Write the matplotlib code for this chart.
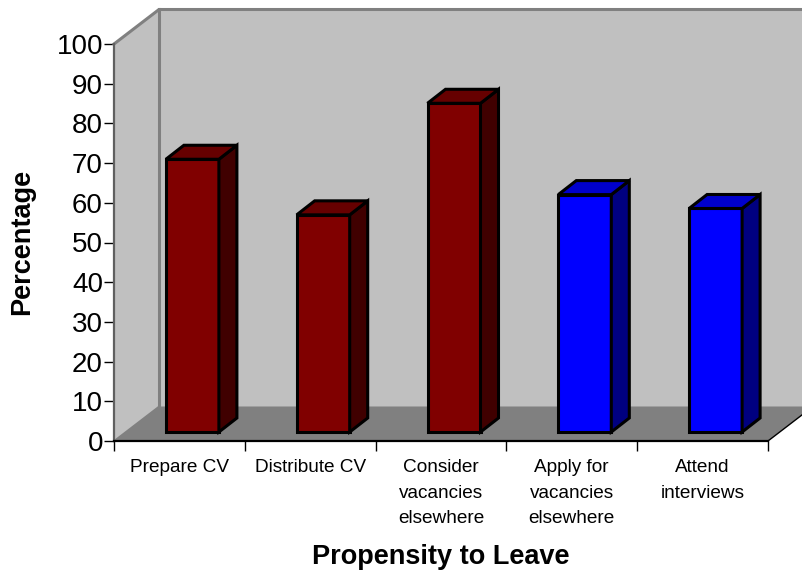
import matplotlib
matplotlib.use("Agg")
import matplotlib.pyplot as plt
from matplotlib.patches import Polygon

categories = ["Prepare CV", "Distribute CV", "Consider\nvacancies\nelsewhere",
              "Apply for\nvacancies\nelsewhere", "Attend\ninterviews"]
values = [68.7, 54.7, 82.8, 59.8, 56.3]
front_colors = ["#800000", "#800000", "#800000", "#0000FF", "#0000FF"]
top_colors = ["#660000", "#660000", "#660000", "#0000CC", "#0000CC"]
side_colors = ["#400000", "#400000", "#400000", "#000080", "#000080"]
y_ticks = list(range(0, 101, 10))

plt.rcParams['font.family'] = ['Liberation Sans', 'DejaVu Sans']
W, H = 802, 572
fig = plt.figure(figsize=(W / 100, H / 100), dpi=100, facecolor="white")
ax = fig.add_axes([114 / W, (H - 441) / H, 654 / W, 397 / H])
ax.set_xlim(-0.5, 4.5)
ax.set_ylim(0, 100)
ax.patch.set_visible(False)

# Depth of the chart box and of the bars, in data units
DX, DY = 45 / 130.8, 34.5 / 3.97
BX, BY = 18 / 130.8, 14 / 3.97
SX, SY = 13 / 130.8, 9 / 3.97
BW = 53 / 130.8


def poly(pts, fc, ec="none", lw=0.0, z=1):
    ax.add_patch(Polygon(pts, closed=True, facecolor=fc, edgecolor=ec, linewidth=lw,
                         joinstyle="miter", zorder=z, clip_on=False))


L, R = -0.5, 4.5
# side wall, back wall, floor
poly([(L, 0), (L + DX, DY), (L + DX, 100 + DY), (L, 100)], "#C0C0C0", z=1)
poly([(L + DX, DY), (R + DX, DY), (R + DX, 100 + DY), (L + DX, 100 + DY)], "#C0C0C0", z=1)
poly([(L, 0), (R, 0), (R + DX, DY), (L + DX, DY)], "#808080", z=1.5)
ax.plot([L, L + DX, R + DX], [100, 100 + DY, 100 + DY], color="#808080", lw=2.2, zorder=2, clip_on=False)
ax.plot([L + DX, L + DX], [DY, 100 + DY], color="#808080", lw=2.2, zorder=2, clip_on=False)
ax.plot([L, L + DX], [0, DY], color="#808080", lw=1.2, zorder=2, clip_on=False)
ax.plot([R, R + DX], [0, DY], color="black", lw=1.0, zorder=2, clip_on=False)

# bars
for i, v in enumerate(values):
    x0 = i + SX - BW / 2
    x1 = x0 + BW
    y0 = SY
    y1 = SY + v
    poly([(x0, y0), (x1, y0), (x1, y1), (x0, y1)], front_colors[i], "black", 2.2, 3)
    poly([(x1, y0), (x1 + BX, y0 + BY), (x1 + BX, y1 + BY), (x1, y1)], side_colors[i], "black", 2.2, 3)
    poly([(x0, y1), (x1, y1), (x1 + BX, y1 + BY), (x0 + BX, y1 + BY)], top_colors[i], "black", 2.2, 3)

for s in ("top", "right"):
    ax.spines[s].set_visible(False)
ax.spines["left"].set_color("#606060")
ax.spines["left"].set_linewidth(1.6)
ax.spines["bottom"].set_color("black")
ax.spines["bottom"].set_linewidth(1.6)
ax.spines["bottom"].set_zorder(2.5)

ax.set_yticks(y_ticks)
ax.tick_params(axis="y", length=7, width=1.0, labelsize=20, pad=1)
ax.set_xticks([k - 0.5 for k in range(6)])
ax.set_xticklabels([])
ax.tick_params(axis="x", which="major", length=7, width=1.0)
ax.set_xticks(range(5), categories, minor=True)
ax.tick_params(axis="x", which="minor", length=0, labelsize=13.7, pad=13)
for t in ax.get_xticklabels(minor=True):
    t.set_linespacing(1.65)

fig.text(441 / W, 1 - 557 / H, "Propensity to Leave", ha="center", va="center",
         fontsize=19.5, fontweight="bold")
fig.text(22.5 / W, 1 - 242 / H, "Percentage", ha="center", va="center", rotation=90,
         fontsize=19.5, fontweight="bold")

fig.savefig("out.png", dpi=100, facecolor="white")
